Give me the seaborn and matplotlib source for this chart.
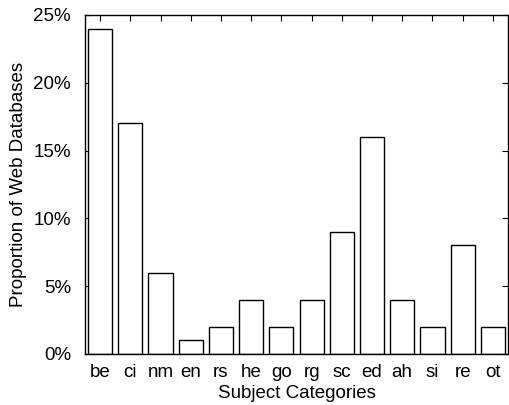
import matplotlib
matplotlib.use("Agg")
import matplotlib.pyplot as plt
import seaborn as sns
import pandas as pd
from matplotlib.ticker import FuncFormatter

categories = ["be", "ci", "nm", "en", "rs", "he", "go", "rg", "sc", "ed", "ah", "si", "re", "ot"]
proportions = [24, 17, 6, 1, 2, 4, 2, 4, 9, 16, 4, 2, 8, 2]

df = pd.DataFrame({"cat": categories, "pct": proportions})

sns.set_style("ticks")
plt.rcParams["font.family"] = ["Liberation Sans", "DejaVu Sans"]
plt.rcParams["text.color"] = "black"
plt.rcParams["axes.labelcolor"] = "black"
plt.rcParams["xtick.color"] = "black"
plt.rcParams["ytick.color"] = "black"

fig = plt.figure(figsize=(5.09, 4.05), dpi=100)
ax = fig.add_axes([0.167, 0.126, 0.831, 0.837])

sns.barplot(data=df, x="cat", y="pct", order=categories, color="white",
            edgecolor="black", linewidth=1, width=0.8, ax=ax)

ax.set_xlim(-0.5, len(categories) - 0.5)
ax.set_ylim(0, 25)
ax.set_yticks([0, 5, 10, 15, 20, 25])
ax.yaxis.set_major_formatter(FuncFormatter(lambda v, p: f"{v:.0f}%"))

for s in ax.spines.values():
    s.set_visible(True)
    s.set_linewidth(1)
    s.set_color("black")

ax.tick_params(direction="in", length=4, width=0.8, top=True, right=True,
               labelsize=13.5, pad=7)
ax.tick_params(axis="y", pad=10)
ax.set_xlabel("Subject Categories", fontsize=13.5, labelpad=3)
ax.set_ylabel("Proportion of Web Databases", fontsize=13.5, labelpad=5)

fig.savefig("out.png", dpi=100)
